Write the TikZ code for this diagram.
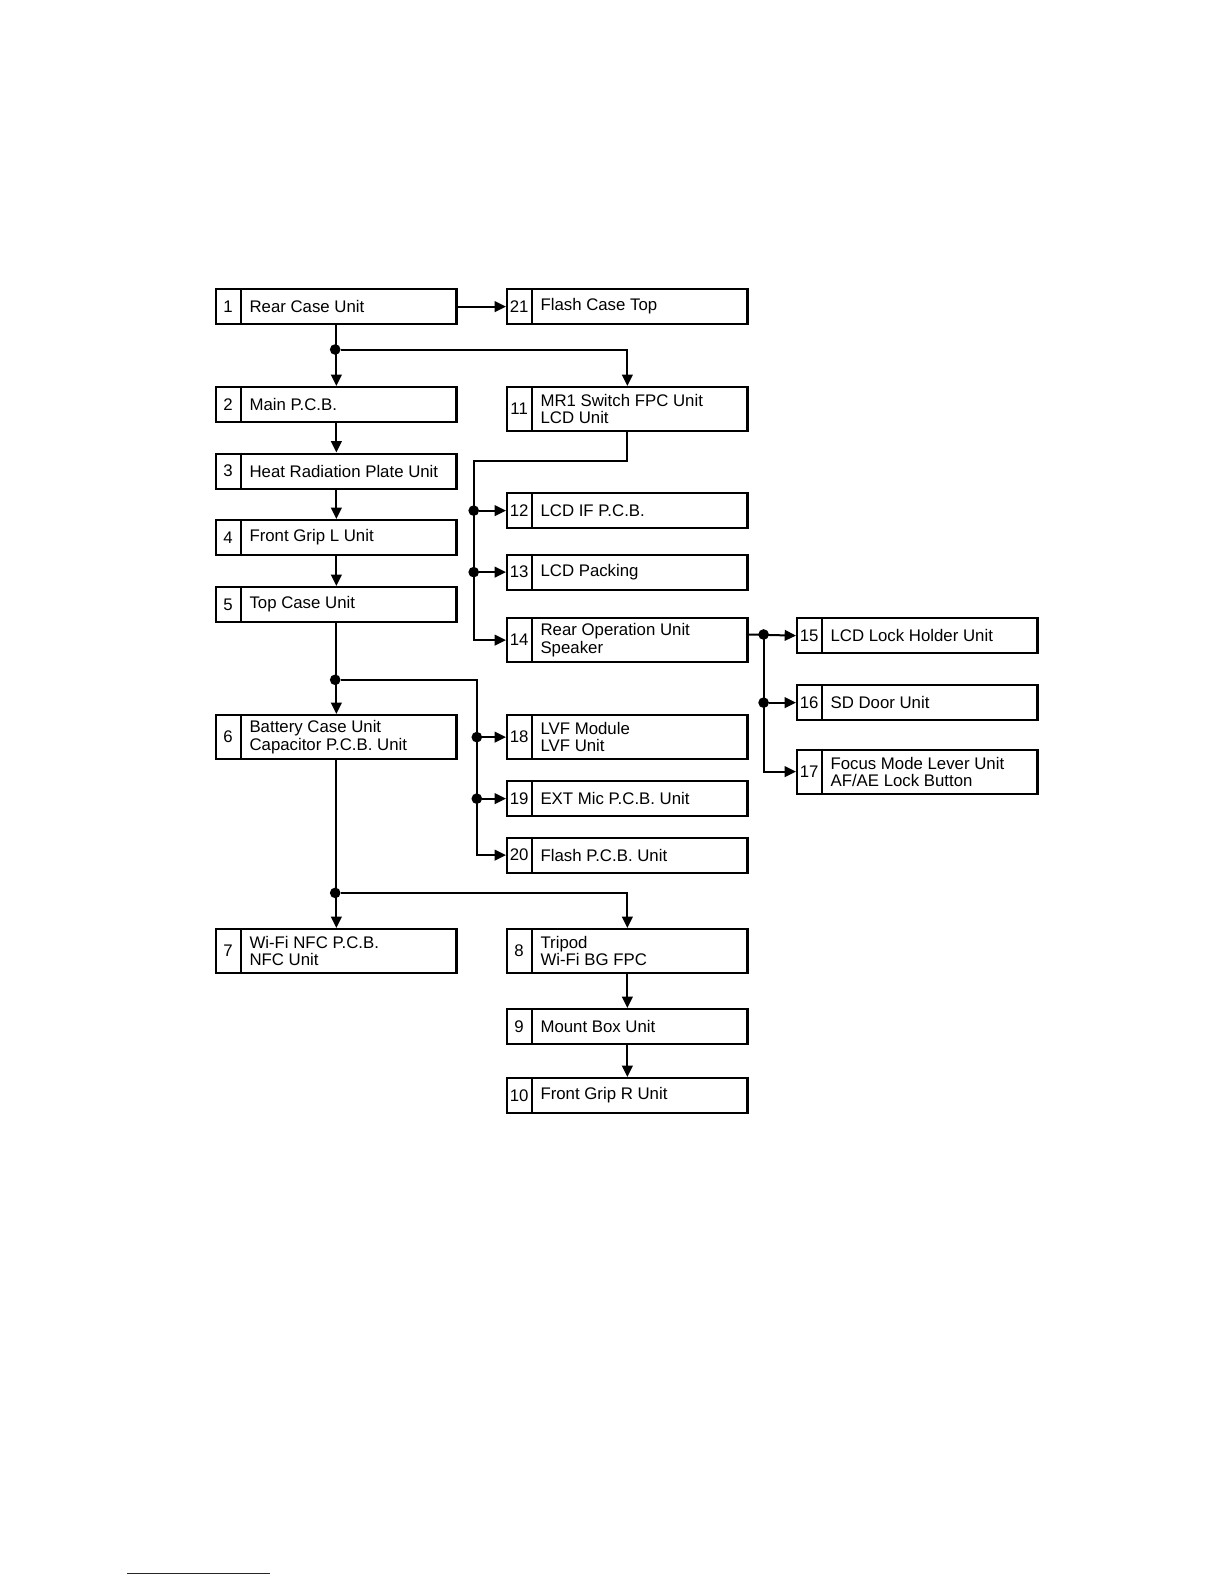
\documentclass[tikz,border=0pt]{standalone}
\usepackage{fontspec}
\setmainfont{Liberation Sans}
\usetikzlibrary{arrows.meta}
\definecolor{rulerblue}{RGB}{25,25,140}

\begin{document}
\begin{tikzpicture}[x=0.75pt, y=-0.75pt, >={Triangle[length=8.5pt, width=8pt]},
  partbox/.style={draw=black, line width=1.7pt, minimum width=180.3pt, inner sep=0pt, anchor=north west},
  divider/.style={line width=1.5pt},
  numlabel/.style={inner sep=0pt, font=\fontsize{12.6pt}{12.9pt}\selectfont},
  partlabel/.style={inner sep=0pt, anchor=west, align=left, font=\fontsize{12.6pt}{12.9pt}\selectfont},
  link/.style={->, line width=1.5pt},
  joint/.style={circle, fill=black, inner sep=0pt, minimum size=8pt}]

\useasboundingbox (0,0) rectangle (1224,1584);

% Colonne de gauche
\foreach \n/\yy/\hh/\txt in {1/288/26.25pt/Rear Case Unit, 2/386/26.25pt/Main P.C.B.,
  3/452.5/26.25pt/Heat Radiation Plate Unit, 4/519/26.25pt/Front Grip L Unit,
  5/586/26.25pt/Top Case Unit, 6/714/33pt/{Battery Case Unit\\Capacitor P.C.B. Unit},
  7/928/33pt/{Wi-Fi NFC P.C.B.\\NFC Unit}}
{
\node[partbox, minimum height=\hh] (B\n) at (215,\yy) {};
\draw[divider] ([xshift=19.7pt]B\n.north west) -- ([xshift=19.7pt]B\n.south west);
\node[numlabel] (N\n) at ([xshift=9.85pt]B\n.west) {\n};
\node[partlabel] (T\n) at ([xshift=25.7pt]B\n.west) {\txt};
}

% Colonne du milieu
\foreach \n/\yy/\hh/\txt in {21/288/26.25pt/Flash Case Top, 11/386/33pt/{MR1 Switch FPC Unit\\LCD Unit},
  12/492/26.25pt/LCD IF P.C.B., 13/553.5/26.25pt/LCD Packing,
  14/617/33pt/{Rear Operation Unit\\Speaker}, 18/714/33pt/{LVF Module\\LVF Unit},
  19/780/26.25pt/EXT Mic P.C.B. Unit, 20/836.5/26.25pt/Flash P.C.B. Unit,
  8/928/33pt/{Tripod\\Wi-Fi BG FPC}, 9/1008/26.25pt/Mount Box Unit,
  10/1077/26.25pt/Front Grip R Unit}
{
\node[partbox, minimum height=\hh] (B\n) at (506,\yy) {};
\draw[divider] ([xshift=19.7pt]B\n.north west) -- ([xshift=19.7pt]B\n.south west);
\node[numlabel] (N\n) at ([xshift=9.85pt]B\n.west) {\n};
\node[partlabel] (T\n) at ([xshift=25.7pt]B\n.west) {\txt};
}

% Colonne de droite
\foreach \n/\yy/\hh/\txt in {15/617/26.25pt/LCD Lock Holder Unit, 16/684/26.25pt/SD Door Unit,
  17/748.5/33pt/{Focus Mode Lever Unit\\AF/AE Lock Button}}
{
\node[partbox, minimum height=\hh] (B\n) at (796,\yy) {};
\draw[divider] ([xshift=19.7pt]B\n.north west) -- ([xshift=19.7pt]B\n.south west);
\node[numlabel] (N\n) at ([xshift=9.85pt]B\n.west) {\n};
\node[partlabel] (T\n) at ([xshift=25.7pt]B\n.west) {\txt};
}

% Les points de jonction
\node[joint] (J1) at (335.2,349.5) {};
\node[joint] (J2) at (335.2,679.8) {};
\node[joint] (J3) at (335.2,892.9) {};
\coordinate (K1) at (473.7,460.6);
\coordinate (K2) at (476.8,679.8);
\coordinate (K3) at (763.6,634.5);

% La chaîne de gauche
\draw[link] (B1) -- (B21);
\draw[link] (B1) -- (B2);
\draw[link] (J1) -| (B11.north);
\foreach \a/\b in {2/3, 3/4, 4/5, 5/6, 6/7, 8/9, 9/10}
\draw[link] (B\a) -- (B\b);
\draw[link] (J3) -| (B8.north);

% Les branches de 11
\draw[link] (B11.south) |- (K1) |- (B14.west);
\foreach \t in {12,13}
{
\node[joint] (J\t) at (K1 |- B\t.west) {};
\draw[link] (J\t) -- (B\t.west);
}

% Les branches de 5
\draw[link] (J2) -- (K2) |- (B20.west);
\foreach \t in {18,19}
{
\node[joint] (J\t) at (K2 |- B\t.west) {};
\draw[link] (J\t) -- (B\t.west);
}

% Les branches de 14
\draw[link] (B14.east |- K3) -- (B15.west);
\draw[link] (K3) |- (B17.west);
\node[joint] (J15) at (K3) {};
\node[joint] (J16) at (K3 |- B16.west) {};
\draw[link] (J16) -- (B16.west);

% Trait bleu en bas de page
\draw[rulerblue, line width=0.9pt] (127.3,1573.7) -- (269.7,1573.7);

\end{tikzpicture}
\end{document}
